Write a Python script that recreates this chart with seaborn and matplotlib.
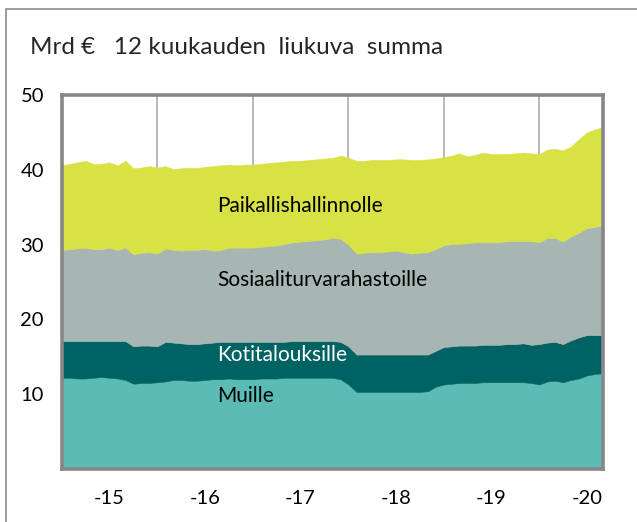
'''Stacked area chart: 12 month rolling sum by recipient sector'''

import matplotlib
matplotlib.use('Agg')
import matplotlib.pyplot as plt
import seaborn as sns
import pandas as pd
from matplotlib.patches import Rectangle

# data (Mrd €, monthly, Jan 2015 - Sep 2020)
months = pd.date_range('2015-01-01', periods=69, freq='MS')

muille = [12.2, 12.2, 12.1, 12.1, 12.2, 12.3, 12.2, 12.1, 11.9, 11.4, 11.5, 11.5,
          11.6, 11.7, 11.9, 11.9, 11.8, 11.8, 11.9, 12.0, 12.0, 12.1, 12.0, 12.0,
          12.0, 12.1, 12.1, 12.1, 12.2, 12.2, 12.2, 12.2, 12.2, 12.2, 12.2, 12.0,
          11.3, 10.3, 10.3, 10.3, 10.3, 10.3, 10.3, 10.3, 10.3, 10.3, 10.4, 11.0,
          11.3, 11.4, 11.5, 11.5, 11.5, 11.6, 11.6, 11.6, 11.6, 11.6, 11.6, 11.5,
          11.3, 11.7, 11.8, 11.6, 11.9, 12.1, 12.5, 12.7, 12.8]

kotitaloudet = [4.9, 4.9, 5.0, 5.0, 4.9, 4.8, 4.9, 5.0, 5.2, 5.0, 5.0, 5.0,
                4.8, 5.3, 5.0, 4.9, 4.9, 4.9, 4.9, 4.9, 5.0, 4.9, 5.0, 5.0,
                5.0, 4.9, 4.9, 4.9, 4.8, 4.9, 4.9, 4.9, 4.9, 4.9, 4.9, 5.0,
                5.1, 5.0, 5.0, 5.0, 5.0, 5.0, 5.0, 5.0, 5.0, 5.0, 4.9, 4.8,
                5.0, 5.0, 5.0, 5.0, 5.0, 5.0, 5.0, 5.0, 5.1, 5.1, 5.2, 5.1,
                5.4, 5.2, 5.2, 5.1, 5.3, 5.5, 5.4, 5.2, 5.1]

sosiaali = [12.2, 12.3, 12.4, 12.5, 12.3, 12.3, 12.5, 12.2, 12.5, 12.3, 12.4, 12.5,
            12.4, 12.5, 12.4, 12.4, 12.6, 12.6, 12.6, 12.3, 12.3, 12.6, 12.6, 12.6,
            12.6, 12.7, 12.8, 12.9, 13.1, 13.2, 13.3, 13.4, 13.5, 13.6, 13.8, 13.8,
            13.6, 13.5, 13.6, 13.7, 13.7, 13.8, 13.9, 13.7, 13.5, 13.6, 13.7, 13.6,
            13.6, 13.7, 13.6, 13.7, 13.8, 13.7, 13.7, 13.7, 13.8, 13.8, 13.7, 13.9,
            13.6, 14.0, 13.9, 13.7, 13.9, 14.0, 14.3, 14.5, 14.6]

paikallis = [11.3, 11.4, 11.5, 11.6, 11.4, 11.4, 11.4, 11.3, 11.6, 11.5, 11.4, 11.5,
             11.5, 11.0, 10.8, 11.0, 11.0, 10.9, 11.0, 11.3, 11.3, 11.1, 11.0, 11.1,
             11.1, 11.1, 11.1, 11.1, 11.0, 10.9, 10.8, 10.8, 10.8, 10.8, 10.7, 11.1,
             11.6, 12.4, 12.3, 12.3, 12.3, 12.2, 12.2, 12.4, 12.5, 12.4, 12.4, 12.1,
             11.8, 11.8, 12.1, 11.6, 11.7, 12.0, 11.8, 11.8, 11.6, 11.7, 11.8, 11.7,
             11.8, 11.8, 11.9, 12.2, 12.0, 12.5, 12.8, 13.0, 13.2]

series_names = ['Muille', 'Kotitalouksille', 'Sosiaaliturvarahastoille', 'Paikallishallinnolle']
colors = ['#5bbbb5', '#006363', '#a7b6b3', '#d9e244']
text_colors = ['black', 'white', 'black', 'black']
label_y = [8.9, 14.5, 24.5, 34.3]

year_starts = pd.to_datetime(['2016-01-01', '2017-01-01', '2018-01-01', '2019-01-01', '2020-01-01'])
year_mids = pd.to_datetime(['2015-07-01', '2016-07-01', '2017-07-01', '2018-07-01', '2019-07-01', '2020-07-01'])
year_labels = ['-15', '-16', '-17', '-18', '-19', '-20']

# style
sns.set_theme(style="white")
plt.rcParams['font.family'] = ['Lato', 'DejaVu Sans']

fig = plt.figure(figsize=(6.37, 5.22), dpi=100)
ax = fig.add_axes([62/637, 1 - 469/522, 541/637, 374/522])

polys = ax.stackplot(months, muille, kotitaloudet, sosiaali, paikallis, colors=colors)
for p, c in zip(polys, colors):
    p.set_edgecolor(c)
    p.set_linewidth(0.4)

ax.set_xlim(months[0], months[-1])
ax.set_ylim(0, 50)
ax.set_yticks([10, 20, 30, 40, 50])
ax.set_xticks(year_starts)
ax.set_xticklabels([])
ax.set_xticks(year_mids, minor=True)
ax.set_xticklabels(year_labels, minor=True)
ax.tick_params(which='both', length=0, labelsize=14.5, colors='black')
ax.tick_params(axis='y', pad=13)
ax.tick_params(axis='x', which='minor', pad=15)
ax.grid(axis='x', which='major', color='#a6a6a6', linewidth=1.1)
ax.grid(axis='y', visible=False)
ax.set_axisbelow(True)
for s in ax.spines.values():
    s.set_color('#878787')
    s.set_linewidth(2.6)

# series labels inside the areas
label_x = pd.Timestamp('2016-08-16')
for name, y, tc in zip(series_names, label_y, text_colors):
    ax.text(label_x, y, name, color=tc, fontsize=15, va='baseline', ha='left')

fig.text(30/637, 1 - 54/522, 'Mrd €   12 kuukauden  liukuva  summa', fontsize=17.5,
         va='baseline', ha='left')

# outer frame
fig.add_artist(Rectangle((6/637, -1), 2, 2 - 9/522, transform=fig.transFigure,
                         fill=False, edgecolor='#8c8c8c', linewidth=1.2))

fig.savefig('out.png', dpi=100)
